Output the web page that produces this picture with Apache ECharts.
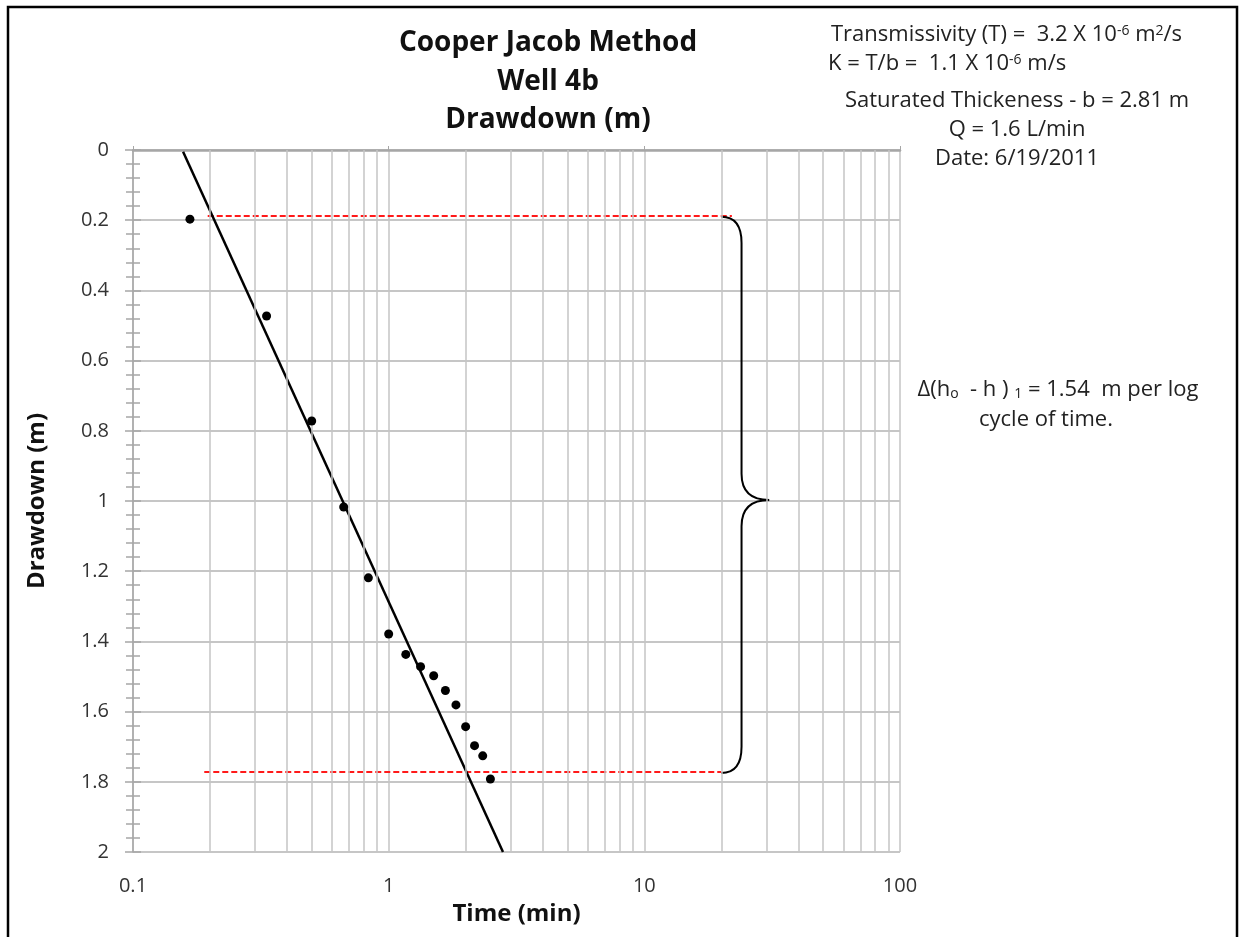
<!DOCTYPE html>
<html>
<head>
<meta charset="utf-8">
<script src="https://cdn.jsdelivr.net/npm/echarts@6/dist/echarts.min.js"></script>
<style>
  html, body { margin: 0; padding: 0; background: #fff; }
  #chart { width: 1243px; height: 937px; }
</style>
</head>
<body>
<div id="chart"></div>
<script>
// measured points (time in min, drawdown in m)
const timeMin = [0.167, 0.333, 0.5, 0.667, 0.833, 1.0, 1.167, 1.333, 1.5, 1.667, 1.833, 2.0, 2.167, 2.333, 2.5];
const drawdown = [0.197, 0.473, 0.772, 1.017, 1.219, 1.379, 1.437, 1.472, 1.498, 1.540, 1.581, 1.643, 1.697, 1.726, 1.792];

// straight line fit
const fitX = [0.157, 2.8];
const fitY = [0.005, 2.0];

// red dashed reference levels
const redTopX = [0.196, 22];
const redTopY = [0.188, 0.188];
const redBotX = [0.19, 20];
const redBotY = [1.772, 1.772];

// brace: xStart, yTop, xMid, xTip, yMid, yBot
const brace = [20, 0.19, 24, 30.8, 0.997, 1.775];

// minor vertical gridlines of the log axis
const minorX = [0.2, 0.3, 0.4, 0.5, 0.6, 0.7, 0.8, 0.9,
  2, 3, 4, 5, 6, 7, 8, 9,
  20, 30, 40, 50, 60, 70, 80, 90];

const FONT = "'Open Sans'";
const GRID = "#c4c4c4";
const SUB = { fontSize: 14, fill: "#222", fontFamily: "Open Sans" };

function pairs(xs, ys) { return xs.map((x, i) => [x, ys[i]]); }

const chart = echarts.init(document.getElementById("chart"));

chart.setOption({
  animation: false,
  backgroundColor: "#fff",
  textStyle: { fontFamily: "Open Sans" },
  grid: { left: 133, right: 343, top: 150, bottom: 85, containLabel: false },
  xAxis: [
    {
      type: "log", logBase: 10, min: 0.1, max: 100, position: "bottom",
      name: "Time (min)", nameLocation: "middle", nameGap: 50,
      nameTextStyle: { fontSize: 24, fontWeight: "bold", color: "#111", fontFamily: "Open Sans" },
      axisLine: { show: false },
      axisTick: { show: false },
      axisLabel: { fontSize: 20, color: "#333", margin: 24, fontFamily: "Open Sans" },
      splitLine: { show: true, lineStyle: { color: GRID, width: 1.5 } }
    },
    {
      type: "log", logBase: 10, min: 0.1, max: 100, position: "top",
      axisLine: { show: true, lineStyle: { color: "#a6a6a6", width: 2.5 } },
      axisTick: { show: true, length: 4, lineStyle: { color: "#a6a6a6" } },
      axisLabel: { show: false },
      splitLine: { show: false }
    }
  ],
  yAxis: [
    {
      type: "value", inverse: true, min: 0, max: 2, interval: 0.2, position: "left",
      name: "Drawdown (m)", nameLocation: "middle", nameGap: 84, nameRotate: 90,
      nameTextStyle: { fontSize: 24, fontWeight: "bold", color: "#111", fontFamily: "Open Sans" },
      axisLine: { show: true, lineStyle: { color: "#a6a6a6", width: 1.5 } },
      axisTick: { show: true, length: 8, lineStyle: { color: "#a6a6a6", width: 1.5 } },
      minorTick: { show: true, splitNumber: 5, length: 7, lineStyle: { color: "#a6a6a6", width: 1.5 } },
      axisLabel: { fontSize: 20, color: "#333", margin: 24, fontFamily: "Open Sans" },
      splitLine: { show: true, lineStyle: { color: "#b3b3b3", width: 1.5 } }
    },
    {
      type: "value", inverse: true, min: 0, max: 2, interval: 0.2, position: "left",
      axisLine: { show: false },
      axisTick: { show: true, inside: true, length: 8, lineStyle: { color: "#a6a6a6", width: 1.5 } },
      minorTick: { show: true, splitNumber: 5, length: 7, lineStyle: { color: "#a6a6a6", width: 1.5 } },
      axisLabel: { show: false },
      splitLine: { show: false }
    }
  ],
  series: [
    {
      // minor vertical gridlines
      type: "line", data: [], z: 1, silent: true,
      markLine: {
        silent: true, symbol: "none", label: { show: false },
        lineStyle: { color: GRID, width: 1.5, type: "solid" },
        data: minorX.map(v => ({ xAxis: v }))
      }
    },
    {
      name: "Top level", type: "line", z: 3, symbol: "none", silent: true,
      lineStyle: { color: "#ff1a1a", width: 2, type: [6, 3] },
      data: pairs(redTopX, redTopY)
    },
    {
      name: "Bottom level", type: "line", z: 3, symbol: "none", silent: true,
      lineStyle: { color: "#ff1a1a", width: 2, type: [6, 3] },
      data: pairs(redBotX, redBotY)
    },
    {
      name: "Fit", type: "line", z: 4, symbol: "none", silent: true,
      lineStyle: { color: "#000", width: 2.5 },
      data: pairs(fitX, fitY)
    },
    {
      name: "Drawdown", type: "scatter", z: 5, symbol: "circle", symbolSize: 9,
      itemStyle: { color: "#000", opacity: 1 },
      data: pairs(timeMin, drawdown)
    },
    {
      name: "Brace", type: "custom", z: 4, silent: true, clip: false,
      data: [brace],
      renderItem: function (params, api) {
        const top = api.coord([api.value(0), api.value(1)]);
        const mid = api.coord([api.value(2), api.value(4)]);
        const tip = api.coord([api.value(3), api.value(4)]);
        const bot = api.coord([api.value(0), api.value(5)]);
        const x0 = top[0], xm = mid[0], xt = tip[0];
        const yt = top[1], ym = mid[1], yb = bot[1];
        const r = xm - x0 + 6;
        const d = [
          "M", x0, yt,
          "Q", xm, yt, xm, yt + r,
          "L", xm, ym - r,
          "Q", xm, ym, xt, ym,
          "Q", xm, ym, xm, ym + r,
          "L", xm, yb - r,
          "Q", xm, yb, x0, yb
        ].join(" ");
        return {
          type: "path",
          shape: { pathData: d },
          style: { fill: "none", stroke: "#000", lineWidth: 2 }
        };
      }
    }
  ],
  graphic: [
    {
      type: "rect", silent: true, z: 100,
      shape: { x: 8, y: 7, width: 1229, height: 960 },
      style: { fill: "none", stroke: "#000", lineWidth: 2.5 }
    },
    {
      type: "text", silent: true,
      style: {
        x: 548, y: 82, text: "Cooper Jacob Method\nWell 4b\nDrawdown (m)",
        font: "bold 28px " + FONT, fill: "#111", align: "center", verticalAlign: "middle", lineHeight: 38.5
      }
    },
    {
      type: "text", silent: true,
      style: {
        x: 831, y: 35, verticalAlign: "middle",
        text: "Transmissivity (T) =  3.2 X 10{s|-6} m{s|2}/s",
        font: "22px " + FONT, fill: "#222",
        rich: { s: Object.assign({ verticalAlign: "top" }, SUB) }
      }
    },
    {
      type: "text", silent: true,
      style: {
        x: 828, y: 64, verticalAlign: "middle",
        text: "K = T/b =  1.1 X 10{s|-6} m/s",
        font: "22px " + FONT, fill: "#222",
        rich: { s: Object.assign({ verticalAlign: "top" }, SUB) }
      }
    },
    {
      type: "text", silent: true,
      style: {
        x: 1017, y: 130, align: "center", verticalAlign: "middle",
        text: "Saturated Thickeness - b = 2.81 m\nQ = 1.6 L/min\nDate: 6/19/2011",
        font: "22px " + FONT, fill: "#222", lineHeight: 29
      }
    },
    {
      type: "text", silent: true,
      style: {
        x: 1058, y: 390, align: "center", verticalAlign: "middle",
        text: "Δ(h{b|o}  - h ) {b|1} = 1.54  m per log",
        font: "22px " + FONT, fill: "#222",
        rich: { b: Object.assign({ verticalAlign: "bottom" }, SUB) }
      }
    },
    {
      type: "text", silent: true,
      style: {
        x: 1046, y: 420, align: "center", verticalAlign: "middle",
        text: "cycle of time.",
        font: "22px " + FONT, fill: "#222"
      }
    }
  ]
});
</script>
</body>
</html>
